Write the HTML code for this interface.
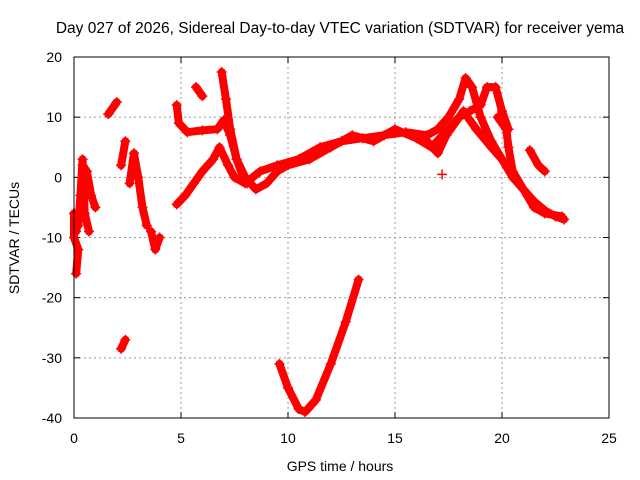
<!DOCTYPE html>
<html><head><meta charset="utf-8"><style>
body{margin:0;background:#fff;}
svg{display:block;font-family:"Liberation Sans",sans-serif;}
</style></head><body>
<svg id="chart" width="640" height="480" viewBox="0 0 640 480">
<text x="340" y="33" font-size="15.5" text-anchor="middle">Day 027 of 2026, Sidereal Day-to-day VTEC variation (SDTVAR) for receiver yema</text>
<text x="340" y="471" font-size="14" text-anchor="middle">GPS time / hours</text>
<text transform="translate(19,238) rotate(-90)" font-size="14" text-anchor="middle">SDTVAR / TECUs</text>
<g id="grid"></g><g id="ticks"></g><g id="marks"></g>
<rect x="74" y="57" width="535" height="361" fill="none" stroke="#000" stroke-width="1"/>
</svg>
<script>
const xTicks=[0,5,10,15,20,25];
const yTicks=[20,10,0,-10,-20,-30,-40];
const traceV=[[9.6,-31],[10,-35],[10.5,-38.5],[10.8,-39],[11.3,-37],[12,-31],[12.7,-24],[13.3,-17]];
const traceLowerLong=[[4.8,-4.5],[5.2,-3],[5.6,-1],[6,1],[6.5,3],[6.8,5],[7.2,2],[7.5,0],[8,-1],[8.7,1],[9.5,2],[10.5,3],[11.5,5],[12.5,6],[13.5,6.5],[14.5,7],[15.5,7.5],[16.5,7],[17,8],[17.5,10],[18,13],[18.3,16.5],[18.6,15],[19,10],[19.5,6],[20,3],[20.5,0],[21,-2],[21.5,-4],[22,-5.5],[22.5,-6.5],[22.9,-7]];
const traceUpper=[[4.8,12],[4.9,9],[5.3,7.5],[6,7.8],[6.7,8],[7,9.5],[7.3,7],[7.6,3],[8,0],[8.5,-2],[9,-1],[9.5,1],[10,2],[11,3],[12,5],[13,7],[14,6],[15,8],[16,6.5],[16.7,5],[17.5,8],[18,10],[18.5,11],[19,12],[19.3,15],[19.7,15],[20,11],[20.3,8]];
const traceLate=[[19.8,10],[20.2,8],[20.3,5],[20.5,1],[21,-2],[21.5,-5],[22,-6],[22.8,-6.5]];
const traceCross=[[16.5,6],[17,4],[17.4,7],[18.2,11],[18.8,8],[19.5,5],[20,3]];
const traceSteep=[[6.9,17.5],[7.1,13],[7.3,8],[7.6,3],[7.9,0],[8.1,-1]];
const traceE=[[5.7,15],[6,13.5]];
const traceF=[[1.6,10.5],[2,12.5]];
const traceG1=[[0,-6],[0.1,-9],[0.3,-5],[0.4,2],[0.6,1],[0.8,-3],[1,-5]];
const traceG2=[[0,-6],[0,-10],[0.2,-12],[0.1,-16]];
const traceG3=[[0.2,-8],[0.3,-3],[0.4,3],[0.5,-6],[0.7,-9]];
const traceH=[[2.2,2],[2.4,6]];
const traceI=[[2.6,-1],[2.8,4],[3,0],[3.2,-5],[3.4,-8]];
const traceJ=[[3.6,-9],[3.8,-12],[4,-10]];
const traceK=[[2.2,-28.5],[2.4,-27]];
const traceL=[[21.3,4.5],[21.7,2],[22,1]];
const traceDot=[[17.2,0.5]];
const traces=[traceV,traceLowerLong,traceUpper,traceLate,traceCross,traceSteep,traceE,traceF,traceG1,traceG2,traceG3,traceH,traceI,traceJ,traceK,traceL,traceDot];

const X=v=>74+v*535/25;
const Y=v=>57+(20-v)*361/60;
const NS="http://www.w3.org/2000/svg";
const grid=document.getElementById('grid'),ticks=document.getElementById('ticks'),marks=document.getElementById('marks');
function mk(tag,attrs,parent){const e=document.createElementNS(NS,tag);for(const k in attrs)e.setAttribute(k,attrs[k]);parent.appendChild(e);return e;}
xTicks.forEach(t=>{
  const g=mk('line',{x1:X(t),x2:X(t),y1:57,y2:418,stroke:'#999','stroke-dasharray':'2,3'},grid);
  
  
  mk('line',{x1:X(t),x2:X(t),y1:418,y2:412,stroke:'#000'},ticks);
  mk('line',{x1:X(t),x2:X(t),y1:57,y2:63,stroke:'#000'},ticks);
  const l=mk('text',{x:X(t),y:443,'font-size':14,'text-anchor':'middle'},ticks);
  l.textContent=t;
  
  
});
yTicks.forEach(t=>{
  const g=mk('line',{x1:74,x2:609,y1:Y(t),y2:Y(t),stroke:'#999','stroke-dasharray':'2,3'},grid);
  
  
  mk('line',{x1:74,x2:80,y1:Y(t),y2:Y(t),stroke:'#000'},ticks);
  mk('line',{x1:603,x2:609,y1:Y(t),y2:Y(t),stroke:'#000'},ticks);
  const l=mk('text',{x:62,y:Y(t)+5,'font-size':14,'text-anchor':'end'},ticks);
  l.textContent=t;
  
  
});
traces.forEach(tr=>{
  const pl=mk('polyline',{points:tr.map(p=>X(p[0])+','+Y(p[1])).join(' '),fill:'none',stroke:'#f00','stroke-width':8,'stroke-linejoin':'round','stroke-linecap':'round'},marks);
  
  
  tr.forEach(p=>{
    const m=mk('path',{d:`M${X(p[0])-5},${Y(p[1])}h10M${X(p[0])},${Y(p[1])-5}v10`,stroke:'#f00','stroke-width':1.5},marks);
    
    
  });
});
</script>
</body></html>
